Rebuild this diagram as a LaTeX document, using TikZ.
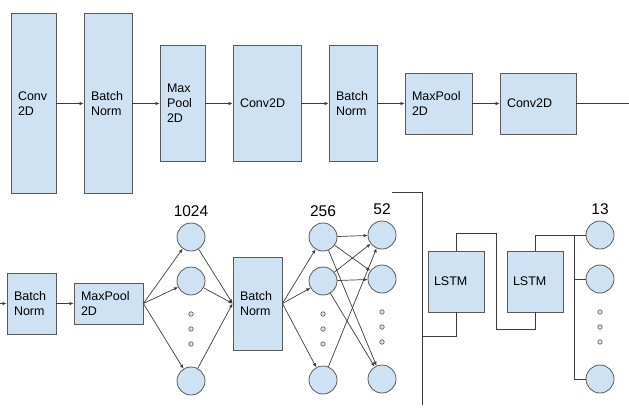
\documentclass[tikz,border=0pt]{standalone}
\usepackage{fontspec}
\setmainfont{Liberation Sans}
\usetikzlibrary{arrows.meta,positioning,calc}
\definecolor{boxfill}{HTML}{CFE2F3}
\definecolor{boxline}{HTML}{595959}
\definecolor{wire}{HTML}{3C3C3C}

\begin{document}
\begin{tikzpicture}[x=1pt, y=-1pt,
	arr/.style={-{Latex[length=4pt,width=3.5pt]}, line width=0.7pt, draw=wire},
	wirel/.style={line width=0.7pt, draw=wire},
	blk/.style={draw=boxline, line width=0.8pt, fill=boxfill, align=left, inner xsep=7pt, inner ysep=0pt, font=\fontsize{12.5}{15}\selectfont},
	unit/.style={draw=boxline, line width=0.8pt, fill=boxfill, circle, minimum size=28pt, inner sep=0pt},
	dot/.style={draw=boxline, line width=0.6pt, fill=boxfill, circle, minimum size=4.5pt, inner sep=0pt},
	cnt/.style={font=\fontsize{15.5}{18}\selectfont}]
	\useasboundingbox (0,0) rectangle (629,407);
	% top row
	\node[blk, text width=31pt, minimum height=180pt] (conva) at (33.5,103.5) {Conv\\2D};
	\node[blk, text width=34pt, minimum height=180pt] (bnorma) at (108,103.5) {Batch\\Norm};
	\node[blk, text width=31pt, minimum height=116pt] (poola) at (182.5,103.5) {Max\\Pool\\2D};
	\node[blk, text width=54pt, minimum height=116pt] (convb) at (267,103.5) {Conv2D};
	\node[blk, text width=34pt, minimum height=116pt] (bnormb) at (353,103.5) {Batch\\Norm};
	\node[blk, text width=53pt, minimum height=61pt] (poolb) at (438.5,103.5) {MaxPool\\2D};
	\node[blk, text width=62pt, minimum height=61pt] (convc) at (538,103.5) {Conv2D};
	\draw[arr] (conva) -- (bnorma);
	\draw[arr] (bnorma) -- (poola);
	\draw[arr] (poola) -- (convb);
	\draw[arr] (convb) -- (bnormb);
	\draw[arr] (bnormb) -- (poolb);
	\draw[arr] (poolb) -- (convc);
	\coordinate (sink) at (629,103.5);
	\draw[wirel] (convc) -- (sink);
	% bottom row
	\coordinate (src) at (0,303.5);
	\node[blk, text width=35pt, minimum height=61pt] (bnormc) at (31.5,303.5) {Batch\\Norm};
	\node[blk, text width=55pt, minimum height=41pt] (poolc) at (108.5,303.5) {MaxPool\\2D};
	\node[blk, text width=35pt, minimum height=93pt] (bnormd) at (257.5,303.5) {Batch\\Norm};
	\draw[arr] (src) -- (bnormc);
	\draw[arr] (bnormc) -- (poolc);
	\foreach \n/\y in {a/237,b/281,c/381}{\node[unit] (fca\n) at (191,\y) {};}
	\foreach \n/\y in {a/237,b/281,c/380}{\node[unit] (fcb\n) at (323,\y) {};}
	\foreach \n/\y in {a/235,b/279,c/379}{\node[unit] (fcc\n) at (382,\y) {};
		\node[unit] (out\n) at (600,\y) {};}
	\foreach \y [count=\i] in {314,329,344}{\node[dot] (dota\i) at (191,\y) {};
		\node[dot] (dotb\i) at (323,\y) {};}
	\foreach \y [count=\i] in {312,327,342}{\node[dot] (dotc\i) at (382,\y) {};
		\node[dot] (dotd\i) at (600,\y) {};}
	\node[cnt] (lblk) at (191,211) {1024};
	\node[cnt] (lblt) at (323,211) {256};
	\node[cnt] (lblf) at (382,209) {52};
	\node[cnt] (lblo) at (600,209) {13};
	\foreach \n in {a,b,c}{\draw[arr] (poolc.east) -- (fca\n);
		\draw[arr] (fca\n) -- (bnormd.west);
		\draw[arr] (bnormd.east) -- (fcb\n);}
	\foreach \a/\b in {a/a,a/b,a/c,b/a,b/b,b/c,c/a}{\draw[arr] (fcb\a) -- (fcc\b);}
	% recurrent part
	\node[blk, inner xsep=6pt, text width=44pt, minimum height=61pt] (lstma) at (456,281.5) {LSTM};
	\node[blk, inner xsep=6pt, text width=44pt, minimum height=61pt] (lstmb) at (535,281.5) {LSTM};
	\coordinate (sepl) at (392,192);
	\coordinate (sept) at (422,192);
	\coordinate (sepb) at (422,405);
	\coordinate (tap) at (422,336);
	\coordinate (hopa) at (496,233);
	\coordinate (hopb) at (496,329);
	\coordinate (bus) at (574,0);
	\draw[wirel] (sepl) -- (sept) -- (sepb);
	\draw[wirel] (tap) -| (lstma.south);
	\draw[wirel] (lstma.north) |- (hopa) -- (hopb) -| (lstmb.south);
	\draw[wirel] (lstmb.north) |- (outa.west);
	\draw[wirel] (bus |- outa) -- (bus |- outc);
	\foreach \n in {b,c}{\draw[wirel] (bus |- out\n) -- (out\n.west);}
\end{tikzpicture}
\end{document}
